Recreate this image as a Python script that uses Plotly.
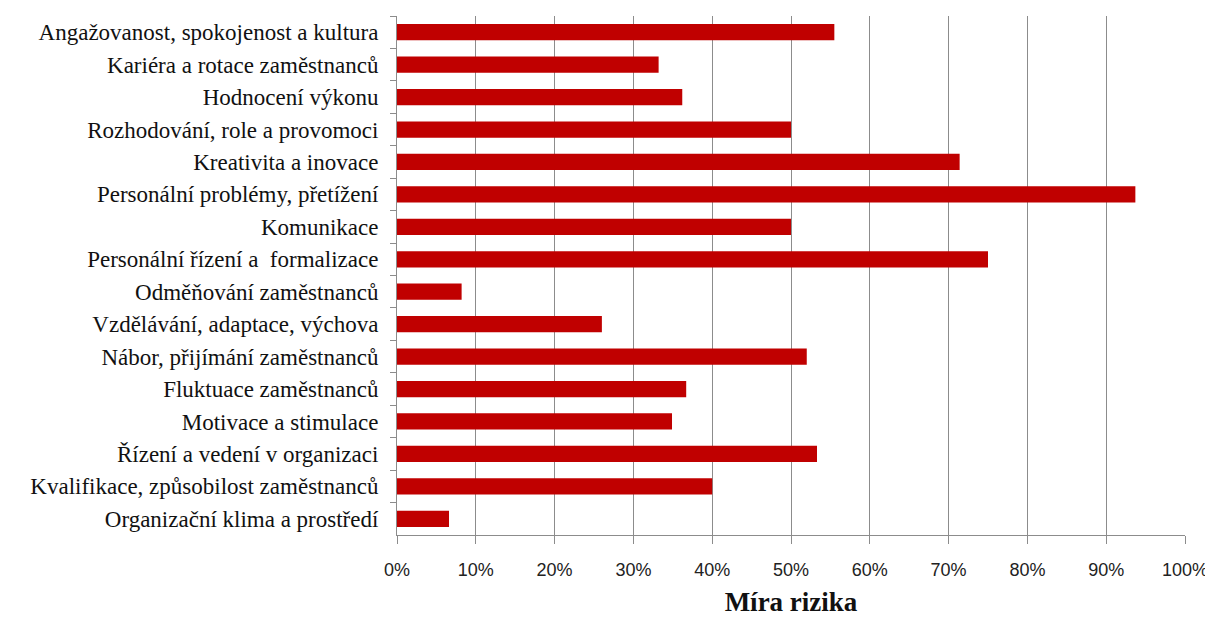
import plotly.graph_objects as go

categories = [
    "Angažovanost, spokojenost a kultura",
    "Kariéra a rotace zaměstnanců",
    "Hodnocení výkonu",
    "Rozhodování, role a provomoci",
    "Kreativita a inovace",
    "Personální problémy, přetížení",
    "Komunikace",
    "Personální řízení a  formalizace",
    "Odměňování zaměstnanců",
    "Vzdělávání, adaptace, výchova",
    "Nábor, přijímání zaměstnanců",
    "Fluktuace zaměstnanců",
    "Motivace a stimulace",
    "Řízení a vedení v organizaci",
    "Kvalifikace, způsobilost zaměstnanců",
    "Organizační klima a prostředí",
]
values = [0.555, 0.332, 0.362, 0.50, 0.714, 0.937, 0.50, 0.75,
          0.082, 0.26, 0.52, 0.367, 0.349, 0.533, 0.40, 0.066]
x_ticks = [i / 10 for i in range(11)]
x_ticklabels = [f"{i*10}%" for i in range(11)]
x_title = "Míra rizika"

fig = go.Figure(go.Bar(
    x=values, y=categories, orientation="h",
    marker=dict(color="#C00000", line=dict(width=0)),
    width=0.5,
))

# page body has an 8px default margin; figure sized to fill the rest of the window
fig.update_layout(
    width=1205, height=609,
    margin=dict(l=389, r=28, t=8, b=82),
    plot_bgcolor="white", paper_bgcolor="white",
    showlegend=False,
    bargap=0.5,
)
fig.update_xaxes(
    range=[0, 1], tickvals=x_ticks, ticktext=x_ticklabels,
    showgrid=True, gridcolor="#8c8c8c", gridwidth=1,
    showline=True, linecolor="#8c8c8c", linewidth=1,
    ticks="outside", ticklen=8, tickcolor="#8c8c8c",
    tickfont=dict(family="Liberation Sans", size=18, color="#222"),
    ticklabelstandoff=10,
    title=dict(text=f"<b>{x_title}</b>", font=dict(family="Liberation Serif", size=27, color="#111"), standoff=23),
    zeroline=False, fixedrange=True, automargin=False,
)
fig.update_yaxes(
    categoryorder="array", categoryarray=categories, autorange="reversed",
    showline=True, linecolor="#8c8c8c", linewidth=1,
    ticks="outside", ticklen=6, tickcolor="#8c8c8c", tickson="boundaries",
    tickfont=dict(family="Liberation Serif", size=23, color="#111"),
    ticklabelstandoff=13,
    showgrid=False, fixedrange=True, automargin=False,
)

fig.write_html("out.html")
